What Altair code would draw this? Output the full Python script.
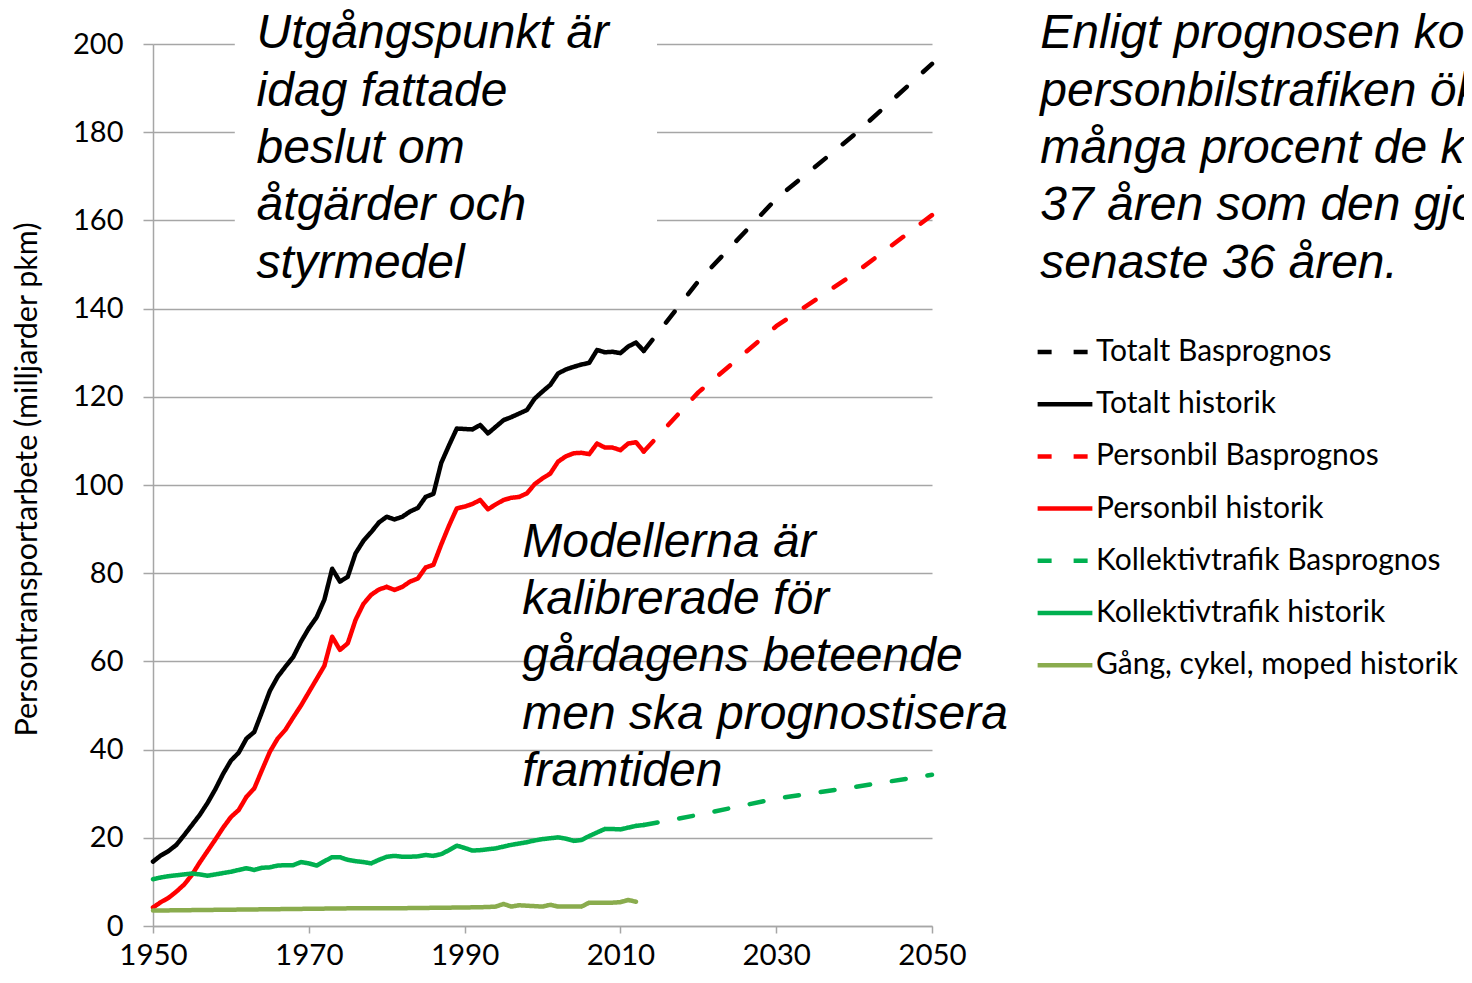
import altair as alt
import pandas as pd

# ---------------- data ----------------
hist_years = list(range(1950, 2014))

total_hist = [14.6, 16.0, 17.0, 18.4, 20.6, 22.9, 25.2, 27.9, 31.0, 34.5,
              37.5, 39.3, 42.5, 44.0, 48.6, 53.3, 56.5, 58.8, 61.0, 64.5,
              67.5, 70.0, 74.0, 81.0, 78.1, 79.2, 84.5, 87.3, 89.3, 91.5,
              92.8, 92.2, 92.8, 94.0, 94.8, 97.3, 98.0, 105.0, 109.0, 112.8,
              112.7, 112.6, 113.6, 111.7, 113.2, 114.7, 115.4, 116.2, 117.0, 119.6,
              121.2, 122.7, 125.3, 126.2, 126.8, 127.3, 127.7, 130.6, 130.1, 130.2,
              129.9, 131.4, 132.3, 130.4]

car_hist = [4.2, 5.4, 6.4, 7.8, 9.4, 11.6, 14.4, 17.0, 19.6, 22.3,
            24.7, 26.3, 29.3, 31.2, 35.4, 39.5, 42.5, 44.5, 47.3, 50.0,
            53.0, 56.0, 59.0, 65.6, 62.6, 64.1, 69.4, 73.0, 75.1, 76.3,
            76.9, 76.2, 76.9, 78.1, 78.8, 81.3, 81.9, 86.5, 90.8, 94.7,
            95.1, 95.7, 96.6, 94.5, 95.6, 96.6, 97.1, 97.3, 98.1, 100.2,
            101.5, 102.6, 105.3, 106.5, 107.2, 107.3, 107.0, 109.4, 108.5, 108.5,
            107.9, 109.4, 109.7, 107.6]

transit_hist = [10.6, 11.0, 11.3, 11.5, 11.7, 11.9, 11.7, 11.4, 11.7, 12.0,
                12.3, 12.7, 13.1, 12.7, 13.2, 13.3, 13.7, 13.8, 13.8, 14.5,
                14.2, 13.7, 14.7, 15.6, 15.6, 15.0, 14.7, 14.5, 14.2, 15.0,
                15.7, 15.9, 15.7, 15.7, 15.8, 16.1, 15.9, 16.3, 17.2, 18.2,
                17.7, 17.1, 17.2, 17.4, 17.6, 18.0, 18.4, 18.7, 19.0, 19.4,
                19.7, 19.9, 20.1, 19.8, 19.3, 19.5, 20.4, 21.2, 22.0, 22.0,
                21.9, 22.3, 22.7, 22.9]

walk_years = [1950, 1955, 1960, 1965, 1970, 1975, 1980, 1985, 1990, 1993,
              1994, 1995, 1996, 1997, 1998, 1999, 2000, 2001, 2002, 2003,
              2004, 2005, 2006, 2007, 2008, 2009, 2010, 2011, 2012]
walk_vals = [3.5, 3.6, 3.7, 3.8, 3.9, 4.0, 4.0, 4.1, 4.2, 4.3,
             4.4, 5.0, 4.4, 4.7, 4.6, 4.5, 4.4, 4.8, 4.4, 4.4,
             4.4, 4.4, 5.3, 5.3, 5.3, 5.3, 5.4, 5.9, 5.5]

prog_years = [2013, 2020, 2030, 2040, 2050]
total_prog = [130.4, 146.2, 164.9, 179.4, 195.5]
car_prog = [107.6, 121.0, 136.0, 147.9, 161.2]
transit_prog = [22.9, 25.2, 28.9, 31.5, 34.3]

series_names = ["Totalt Basprognos", "Totalt historik",
                "Personbil Basprognos", "Personbil historik",
                "Kollektivtrafik Basprognos", "Kollektivtrafik historik",
                "Gång, cykel, moped historik"]
series_colors = ["#000000", "#000000", "#ff0000", "#ff0000",
                 "#00b050", "#00b050", "#8aac4e"]
DASH = [14, 22]
SOLID = [1, 0]
series_dashes = [DASH, SOLID, DASH, SOLID, DASH, SOLID, SOLID]

y_ticks = [0, 20, 40, 60, 80, 100, 120, 140, 160, 180, 200]
x_ticks = [1950, 1970, 1990, 2010, 2030, 2050]

text_left = ["Utgångspunkt är", "idag fattade", "beslut om",
             "åtgärder och", "styrmedel"]
text_mid = ["Modellerna är", "kalibrerade för", "gårdagens beteende",
            "men ska prognostisera", "framtiden"]
text_right = ["Enligt prognosen kommer", "personbilstrafiken öka lika",
              "många procent de kommande", "37 åren som den gjorde de",
              "senaste 36 åren."]
text_year = [1963.3, 1997.4, 2063.9]
text_value = [199.0, 83.7, 199.0]

box_year = [1960.5, 2014.7]
box_value = [144.0, 206.0]

# ---------------- frames ----------------
rows = []
def add(name, years, vals):
    for i, (yr, v) in enumerate(zip(years, vals)):
        rows.append({"serie": name, "year": yr, "value": v, "order": i})

add("Totalt Basprognos", prog_years, total_prog)
add("Totalt historik", hist_years, total_hist)
add("Personbil Basprognos", prog_years, car_prog)
add("Personbil historik", hist_years, car_hist)
add("Kollektivtrafik Basprognos", prog_years, transit_prog)
add("Kollektivtrafik historik", hist_years, transit_hist)
add("Gång, cykel, moped historik", walk_years, walk_vals)
df = pd.DataFrame(rows)

box_df = pd.DataFrame({"year": [box_year[0]], "year2": [box_year[1]],
                       "value": [box_value[0]], "value2": [box_value[1]]})

text_df = pd.DataFrame({"year": text_year, "value": text_value,
                        "txt": [text_left, text_mid, text_right]})

# ---------------- encodings ----------------
GRID = "#a6a6a6"
x_enc = alt.X("year:Q",
              scale=alt.Scale(domain=[1950, 2050], nice=False, zero=False),
              axis=alt.Axis(values=x_ticks, format="d", grid=False, title=None,
                            labelFont="Lato", labelFontSize=29.5, labelColor="#000000",
                            tickSize=7, tickColor=GRID, tickWidth=1.5,
                            domainColor=GRID, domainWidth=1.5, labelPadding=8,
                            labelFlush=False))
y_enc = alt.Y("value:Q",
              scale=alt.Scale(domain=[0, 200], nice=False),
              axis=alt.Axis(values=y_ticks, title="Persontransportarbete (milljarder pkm)",
                            titleFont="Lato", titleFontSize=30.5, titleFontWeight="normal",
                            titleColor="#000000", titleAngle=-90,
                            titleX=-126, titleY=435, titleAlign="center",
                            titleBaseline="middle",
                            labelFont="Lato", labelFontSize=29, labelColor="#000000",
                            tickSize=10, tickColor=GRID, tickWidth=1.5,
                            domainColor=GRID, domainWidth=1.5, labelPadding=20,
                            gridColor=GRID, gridWidth=1.5))

box = alt.Chart(box_df).mark_rect(color="white").encode(
    x=x_enc, x2="year2:Q", y=y_enc, y2="value2:Q")

legend = alt.Legend(orient="none", legendX=882, legendY=278, title=None,
                    symbolType="stroke", symbolSize=3000, symbolStrokeWidth=4.5,
                    labelFont="Lato", labelFontSize=30, labelColor="#000000",
                    labelOffset=1, labelLimit=600, rowPadding=7.2, padding=0)

lines = alt.Chart(df).mark_line(strokeWidth=4.5, strokeCap="round",
                                strokeJoin="round").encode(
    x=x_enc, y=y_enc,
    color=alt.Color("serie:N",
                    scale=alt.Scale(domain=series_names, range=series_colors),
                    legend=legend),
    strokeDash=alt.StrokeDash("serie:N",
                              scale=alt.Scale(domain=series_names, range=series_dashes),
                              legend=legend),
    order="order:Q")

texts = alt.Chart(text_df).mark_text(align="left", baseline="alphabetic",
                                     font="Liberation Sans", fontStyle="italic",
                                     fontSize=48, lineHeight=57.3,
                                     color="#000000").encode(
    x=x_enc, y=y_enc, text="txt")

chart = alt.layer(box, lines, texts).properties(
    width=779, height=882,
    autosize=alt.AutoSizeParams(type="none"),
    padding={"left": 145, "top": 36, "right": 532, "bottom": 47},
).configure(background="white").configure_view(stroke=None)

chart.save("out.html", embed_options={"renderer": "svg", "actions": False})
